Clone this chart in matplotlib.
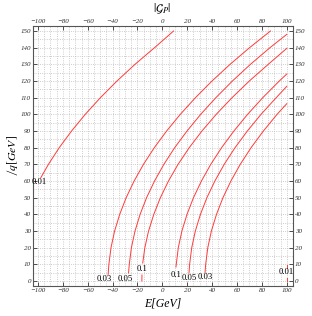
import matplotlib
matplotlib.use('Agg')
import matplotlib.pyplot as plt
import numpy as np

plt.rcParams['mathtext.fontset'] = 'stix'

# contour curves: E [GeV] at given q [GeV]
a_q = [4, 10, 20, 30, 40, 50, 60, 70, 80, 90, 100, 110, 120, 130, 140, 150]
a_E = [-43.6, -43.0, -41.3, -38.4, -34.3, -29.1, -22.7, -15.2, -6.5, 3.4, 14.4, 26.6, 39.9, 54.4, 70.1, 86.9]
b_q = [4.8, 10, 20, 30, 40, 50, 60, 70, 80, 90, 100, 110, 120, 130, 140, 148.0]
b_E = [-27.2, -26.6, -24.9, -22.0, -17.9, -12.7, -6.3, 1.2, 9.9, 19.8, 30.8, 43.0, 56.3, 70.8, 86.5, 100.0]
c_q = [10.8, 20, 30, 40, 50, 60, 70, 80, 90, 100, 110, 120, 130, 139.6]
c_E = [-15.8, -14.1, -11.1, -6.9, -1.6, 4.9, 12.6, 21.6, 31.8, 43.3, 56.0, 69.9, 85.1, 100.0]
c_stub_q = [0.0, 3.6]
c_stub_E = [-16.5, -16.4]
d_q = [8.4, 20, 30, 40, 50, 60, 70, 80, 90, 100, 110, 120, 124.2]
d_E = [10.9, 12.8, 15.7, 19.8, 25.0, 31.4, 38.9, 47.6, 57.5, 68.5, 80.7, 94.0, 100.0]
e_q = [4.8, 10, 20, 30, 40, 50, 60, 70, 80, 90, 100, 110, 116.8]
e_E = [21.4, 21.9, 23.6, 26.5, 30.6, 35.8, 42.2, 49.7, 58.4, 68.3, 79.3, 91.5, 100.0]
f_q = [5, 10, 20, 30, 40, 50, 60, 70, 80, 90, 100, 106.4]
f_E = [34.3, 34.8, 36.5, 39.4, 43.5, 48.7, 55.1, 62.6, 71.3, 81.2, 92.2, 100.0]
g_q = [62, 70, 80, 90, 100, 110, 120, 130, 140, 150]
g_E = [-97.7, -91.6, -82.9, -73.0, -62.0, -49.8, -36.5, -22.0, -6.3, 9.0]
g_low_q = [0.0, 1.8]
g_low_E = [99.8, 99.8]
g_high_q = [8.0, 9.6]
g_high_E = [100.0, 100.0]

labels = ['0.01', '0.03', '0.05', '0.1', '0.1', '0.05', '0.03', '0.01']
label_E = [-98.8, -46.4, -30.2, -16.5, 10.9, 21.4, 34.3, 99.6]
label_q = [59.4, 1.2, 1.2, 7.2, 3.6, 1.8, 2.4, 5.4]

fig = plt.figure(figsize=(3.12, 3.16), dpi=100)
ax = fig.add_axes([33 / 312, 1 - 286 / 316, 260 / 312, 260 / 316])

red = '#ff3a3a'
curves = [(a_E, a_q), (b_E, b_q), (c_E, c_q), (c_stub_E, c_stub_q), (d_E, d_q),
          (e_E, e_q), (f_E, f_q), (g_E, g_q), (g_low_E, g_low_q), (g_high_E, g_high_q)]
for E, q in curves:
    ax.plot(E, q, color=red, lw=0.7)

for t, x, y in zip(labels, label_E, label_q):
    ax.text(x, y, t, fontsize=6.2, family='Liberation Serif', ha='center', va='center')

ax.set_xlim(-104, 105)
ax.set_ylim(-3, 153)
ax.set_xticks(np.arange(-100, 101, 20))
ax.set_yticks(np.arange(0, 151, 10))
ax.set_xticks(np.arange(-100, 101, 5), minor=True)
ax.set_yticks(np.arange(0, 151, 5), minor=True)
ax.grid(which='both', color='#bdbdbd', ls=':', lw=0.6)
ax.tick_params(which='major', direction='in', length=3, width=0.6, labelsize=5,
               top=True, right=True, labeltop=True, labelright=True, pad=1.5, colors='#333333')
ax.tick_params(which='minor', length=0)
for lbl in ax.get_xticklabels() + ax.get_yticklabels():
    lbl.set_family('Liberation Serif')
    lbl.set_style('italic')
for s in ax.spines.values():
    s.set_color('#555555')
    s.set_linewidth(0.8)

fig.text(163 / 312, 1 - 303 / 316, 'E[GeV]', fontsize=8.5, family='Liberation Serif', style='italic',
         ha='center', va='center')
fig.text(12 / 312, 1 - 155 / 316, r'$\not{q}[GeV]$', fontsize=8.5, rotation=90, ha='center', va='center')
fig.text(162 / 312, 1 - 9 / 316, r'$|\mathcal{G}_P|$', fontsize=8.5, ha='center', va='center')

fig.savefig('out.png', dpi=100)
